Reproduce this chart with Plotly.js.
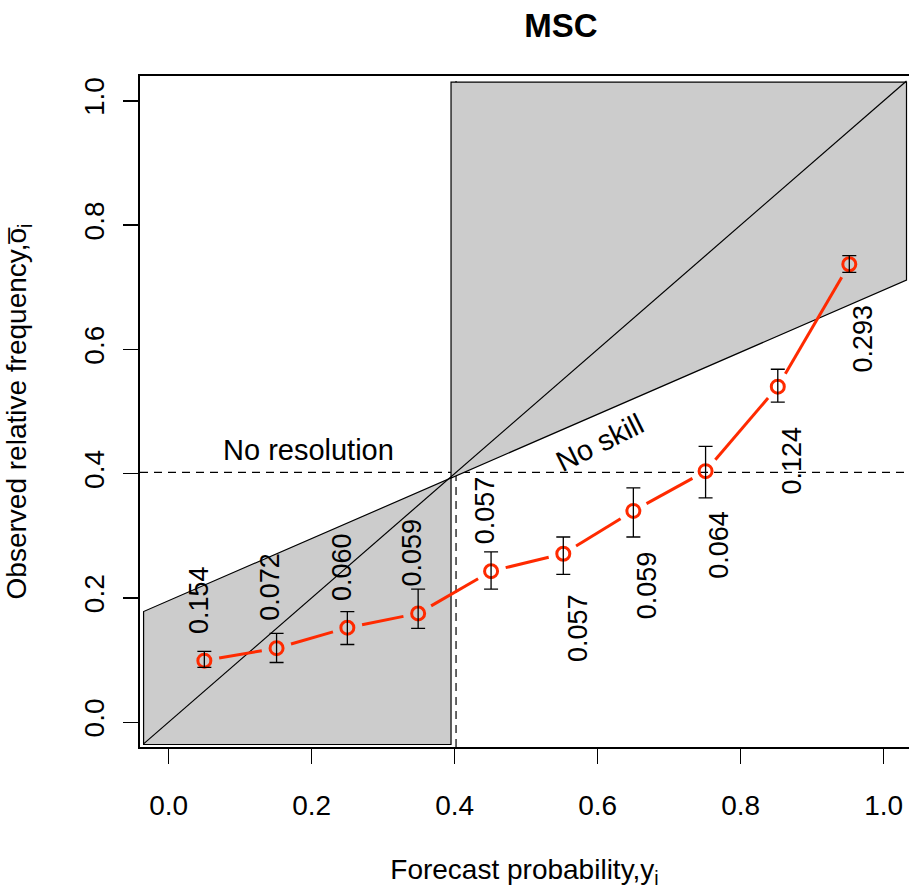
<!DOCTYPE html>
<html><head><meta charset="utf-8">
<script src="https://cdn.plot.ly/plotly-3.0.1.min.js"></script>
<style>body{margin:0;padding:0;background:#fff}</style>
</head><body><div id="chart" style="width:909px;height:890px"></div>
<script>
// ---- data ----
const forecastProb = [0.050, 0.151, 0.250, 0.349, 0.451, 0.552, 0.650, 0.751, 0.852, 0.952];
const obsFreq      = [0.099, 0.119, 0.152, 0.175, 0.243, 0.271, 0.340, 0.404, 0.540, 0.737];
const obsUpper     = [0.114, 0.143, 0.178, 0.214, 0.274, 0.298, 0.377, 0.444, 0.568, 0.751];
const obsLower     = [0.088, 0.096, 0.125, 0.151, 0.214, 0.238, 0.298, 0.361, 0.515, 0.724];
const binFreqLabels = ["0.154","0.072","0.060","0.059","0.057","0.057","0.059","0.064","0.124","0.293"];
const xTickVals = [0, 0.2, 0.4, 0.6, 0.8, 1.0];
const xTickText = ["0.0","0.2","0.4","0.6","0.8","1.0"];
const yTickVals = [0, 0.2, 0.4, 0.6, 0.8, 1.0];
const yTickText = ["0.0","0.2","0.4","0.6","0.8","1.0"];
const climatology = 0.402;     // dashed lines
const skillSplit = 0.395;      // edge of shaded regions
const noSkillIntercept = 0.1955; // no-skill line y = 0.5*x + b
const noSkillSlope = 0.5;
const polyLo = -0.035, polyHi = 1.032, polyTop = 1.030, polyBottom = -0.036;

// ---- layout geometry ----
const W = 909, H = 890;
const M = {l: 140, r: 0, t: 76, b: 143};
const xRange = [-0.04, 1.0355], yRange = [-0.04, 1.04];
const kx = (W - M.l - M.r) / (xRange[1] - xRange[0]);
const ky = (H - M.t - M.b) / (yRange[1] - yRange[0]);
const FONT = "Liberation Sans, Arial, Helvetica, sans-serif";
const RED = "#ff2a00";

// line segments with gaps around points (R type = "b")
const gap = 15;
const segX = [], segY = [];
for (let i = 0; i < forecastProb.length - 1; i++) {
  const dx = (forecastProb[i+1] - forecastProb[i]) * kx;
  const dy = (obsFreq[i+1] - obsFreq[i]) * ky;
  const L = Math.hypot(dx, dy);
  if (L <= 2 * gap) continue;
  const ux = dx / L, uy = dy / L;
  segX.push(forecastProb[i] + ux * gap / kx, forecastProb[i+1] - ux * gap / kx, null);
  segY.push(obsFreq[i] + uy * gap / ky, obsFreq[i+1] - uy * gap / ky, null);
}

const ns = x => noSkillSlope * x + noSkillIntercept;
const leftPoly = `M${polyLo},${polyBottom} L${skillSplit},${polyBottom} L${skillSplit},${ns(skillSplit)} L${polyLo},${ns(polyLo)} Z`;
const rightPoly = `M${skillSplit},${ns(skillSplit)} L${skillSplit},${polyTop} L${polyHi},${polyTop} L${polyHi},${ns(polyHi)} Z`;

const shapes = [
  {type:'path', path:leftPoly, xref:'x', yref:'y', fillcolor:'#cccccc', line:{color:'black', width:1.2}, layer:'below'},
  {type:'path', path:rightPoly, xref:'x', yref:'y', fillcolor:'#cccccc', line:{color:'black', width:1.2}, layer:'below'},
  {type:'line', xref:'x', yref:'y', x0:polyLo, y0:polyLo, x1:polyHi, y1:polyHi, line:{color:'black', width:1.2}, layer:'below'},
  {type:'line', xref:'paper', yref:'y', x0:0, x1:1, y0:climatology, y1:climatology, line:{color:'black', width:1.2, dash:'8px,6px'}, layer:'below'},
  {type:'line', xref:'x', yref:'paper', x0:climatology, x1:climatology, y0:0, y1:1, line:{color:'black', width:1.2, dash:'8px,6px'}, layer:'below'}
];

const labelAbove = [true, true, true, true, true, false, false, false, false, false];
const annotations = binFreqLabels.map((t, i) => ({
  x: forecastProb[i], y: obsFreq[i], xref:'x', yref:'y', text: t, showarrow:false,
  textangle: -90, font:{family:FONT, size:27, color:'black'},
  xanchor:'center', yanchor: labelAbove[i] ? 'bottom' : 'top',
  xshift: labelAbove[i] ? -6 : 14, yshift: labelAbove[i] ? 25 : -38
}));
annotations.push({x:0.196, y:0.4375, xref:'x', yref:'y', text:'No resolution', showarrow:false,
  font:{family:FONT, size:29, color:'black'}, xanchor:'center', yanchor:'middle'});
annotations.push({x:0.602, y:0.4500, xref:'x', yref:'y', text:'No skill', showarrow:false, textangle:-26.57,
  font:{family:FONT, size:29, color:'black'}, xanchor:'center', yanchor:'middle'});

const traces = [
  {x: segX, y: segY, mode:'lines', line:{color:RED, width:3}, hoverinfo:'skip', showlegend:false},
  {x: forecastProb, y: obsFreq, mode:'markers', showlegend:false,
   marker:{symbol:'circle-open', size:13, color:RED, line:{color:RED, width:3}}},
  {x: forecastProb, y: obsFreq, mode:'markers', showlegend:false, marker:{opacity:0, size:1},
   error_y:{type:'data', symmetric:false,
     array: obsUpper.map((u, i) => u - obsFreq[i]),
     arrayminus: obsLower.map((l, i) => obsFreq[i] - l),
     color:'black', thickness:1.3, width:7}}
];

const axisCommon = {
  showgrid:false, zeroline:false, showline:true, mirror:true, linecolor:'black', linewidth:2,
  ticks:'outside', ticklen:15, tickwidth:1.3, tickcolor:'black',
  tickfont:{family:FONT, size:28, color:'black'}
};

const layout = {
  width:W, height:H, margin:M, paper_bgcolor:'white', plot_bgcolor:'white',
  title:{text:'<b>MSC</b>', font:{family:FONT, size:33, color:'black'}, x:561/W, xanchor:'center', y:1-25/H, yanchor:'middle', xref:'container', yref:'container'},
  xaxis: Object.assign({}, axisCommon, {range:xRange, tickvals:xTickVals, ticktext:xTickText, ticklabelstandoff:17,
    title:{text:'Forecast probability,y<sub>i</sub>', font:{family:FONT, size:28, color:'black'}, standoff:40}}),
  yaxis: Object.assign({}, axisCommon, {range:yRange, tickvals:yTickVals, ticktext:yTickText, tickangle:-90, ticklabelstandoff:8,
    title:{text:'Observed relative frequency,o̅<sub>i</sub>', font:{family:FONT, size:28, color:'black'}, standoff:44}}),
  shapes: shapes, annotations: annotations, showlegend:false
};

Plotly.newPlot('chart', traces, layout, {staticPlot:true, displayModeBar:false});
</script></body></html>
